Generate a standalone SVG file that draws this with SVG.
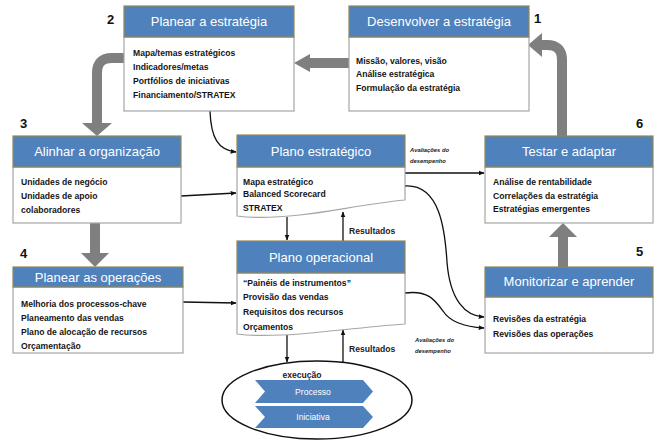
<svg xmlns="http://www.w3.org/2000/svg" width="656" height="444" viewBox="0 0 656 444">
  <style>
    .hdr { fill: #4f81bd; stroke: #938953; stroke-width: 1.2; }
    .body { fill: #ffffff; stroke: #a6a6a6; stroke-width: 1.2; }
    .title { font-family: "Liberation Sans", Arial, sans-serif; font-size: 13px; fill: #ffffff; text-anchor: middle; }
    .item { font-family: "Liberation Sans", Arial, sans-serif; font-size: 8.6px; font-weight: bold; fill: #151515; }
    .num { font-family: "Liberation Sans", Arial, sans-serif; font-size: 13px; font-weight: bold; fill: #111; }
    .lbl { font-family: "Liberation Sans", Arial, sans-serif; font-size: 8.6px; font-weight: bold; fill: #222; }
    .tiny { font-family: "Liberation Sans", Arial, sans-serif; font-size: 5.8px; font-weight: bold; font-style: italic; fill: #222; }
    .thin { fill: none; stroke: #111; stroke-width: 1.3; marker-end: url(#tip); }
    .thick { fill: none; stroke: #7f7f7f; stroke-width: 10; }
    .head { fill: #7f7f7f; }
    .chev { fill: #4f81bd; }
    .chevtxt { font-family: "Liberation Sans", Arial, sans-serif; font-size: 8.6px; fill: #ffffff; text-anchor: middle; }
  </style>
  <defs>
    <marker id="tip" viewBox="0 0 10 10" refX="9" refY="5" markerWidth="6" markerHeight="6" orient="auto" markerUnits="userSpaceOnUse">
      <path d="M0,1 L10,5 L0,9 Z" fill="#111"/>
    </marker>
  </defs>

  <rect width="656" height="444" fill="#ffffff"/>

  <!-- cycle step numbers -->
  <g id="numbers">
    <text class="num" x="534" y="23">1</text>
    <text class="num" x="107" y="24">2</text>
    <text class="num" x="20" y="128">3</text>
    <text class="num" x="20" y="258">4</text>
    <text class="num" x="636" y="256">5</text>
    <text class="num" x="636" y="128">6</text>
  </g>

  <!-- connectors -->
  <g id="connectors">
    <!-- thick grey cycle arrows -->
    <line class="thick" x1="349" y1="63" x2="308" y2="63"/>
    <polygon class="head" points="294,63 310,54 310,72"/>

    <path class="thick" d="M124,58 H112 Q97,58 97,73 V124"/>
    <polygon class="head" points="82,123 112,123 97,136"/>

    <line class="thick" x1="95" y1="223" x2="95" y2="254"/>
    <polygon class="head" points="81,253 109,253 95,267"/>

    <line class="thick" x1="563" y1="267" x2="563" y2="236"/>
    <polygon class="head" points="549,237 577,237 563,223"/>

    <path class="thick" d="M562,136 V60 Q562,45 547,45 H540"/>
    <polygon class="head" points="528,45 542,33 542,57"/>

    <!-- thin flow arrows -->
    <path class="thin" d="M210,111 C211,138 218,150 236,152"/>
    <path class="thin" d="M181,196 L236,193"/>
    <path class="thin" d="M183,302 L236,303"/>
    <path class="thin" d="M287,217 V240"/>
    <path class="thin" d="M343,241 V212"/>
    <path class="thin" d="M287,335 V362"/>
    <path class="thin" d="M343,362 V330"/>
    <path class="thin" d="M405,173 H484"/>
    <path class="thin" d="M405,186 C440,184 445,230 447,262 C450,300 465,316 484,317"/>
    <path class="thin" d="M405,293 C428,290 435,300 443,311 C450,322 465,327 484,328"/>

    <text class="lbl" x="349" y="234">Resultados</text>
    <text class="lbl" x="349" y="352">Resultados</text>
    <text class="tiny" x="410" y="152">Avaliações do</text>
    <text class="tiny" x="410" y="163">desempenho</text>
    <text class="tiny" x="415" y="342">Avaliações do</text>
    <text class="tiny" x="415" y="353">desempenho</text>
  </g>

  <!-- 1: Desenvolver a estratégia -->
  <g id="desenvolver">
    <rect class="body" x="349" y="37" width="180" height="74"/>
    <rect class="hdr" x="349" y="6" width="180" height="31"/>
    <text class="title" x="439" y="26">Desenvolver a estratégia</text>
    <text class="item" x="356" y="64">Missão, valores, visão</text>
    <text class="item" x="356" y="77">Análise estratégica</text>
    <text class="item" x="356" y="91">Formulação da estratégia</text>
  </g>

  <!-- 2: Planear a estratégia -->
  <g id="planear-estrategia">
    <rect class="body" x="124" y="37" width="170" height="74"/>
    <rect class="hdr" x="124" y="6" width="170" height="31"/>
    <text class="title" x="209" y="26">Planear a estratégia</text>
    <text class="item" x="133" y="56">Mapa/temas estratégicos</text>
    <text class="item" x="133" y="70">Indicadores/metas</text>
    <text class="item" x="133" y="84">Portfólios de iniciativas</text>
    <text class="item" x="133" y="98">Financiamento/STRATEX</text>
  </g>

  <!-- 3: Alinhar a organização -->
  <g id="alinhar">
    <rect class="body" x="13" y="167" width="168" height="56"/>
    <rect class="hdr" x="13" y="136" width="168" height="31"/>
    <text class="title" x="97" y="156">Alinhar a organização</text>
    <text class="item" x="21" y="185">Unidades de negócio</text>
    <text class="item" x="21" y="199">Unidades de apoio</text>
    <text class="item" x="21" y="213">colaboradores</text>
  </g>

  <!-- 4: Planear as operações -->
  <g id="planear-operacoes">
    <rect class="body" x="13" y="287" width="170" height="66"/>
    <rect class="hdr" x="13" y="267" width="170" height="20"/>
    <text class="title" x="98" y="282">Planear as operações</text>
    <text class="item" x="21" y="307">Melhoria dos processos-chave</text>
    <text class="item" x="21" y="321">Planeamento das vendas</text>
    <text class="item" x="21" y="335">Plano de alocação de recursos</text>
    <text class="item" x="21" y="349">Orçamentação</text>
  </g>

  <!-- Plano estratégico (document) -->
  <g id="plano-estrategico">
    <path class="body" d="M237,167 H405 V200 C365,204 335,211 300,215 C272,218 252,218 237,216 Z"/>
    <rect class="hdr" x="237" y="135" width="168" height="32"/>
    <text class="title" x="321" y="156">Plano estratégico</text>
    <text class="item" x="243" y="185">Mapa estratégico</text>
    <text class="item" x="243" y="197">Balanced Scorecard</text>
    <text class="item" x="243" y="211">STRATEX</text>
  </g>

  <!-- Plano operacional (document) -->
  <g id="plano-operacional">
    <path class="body" d="M237,273 H405 V324 C365,327 335,331 300,334 C272,336 252,336 237,334 Z"/>
    <rect class="hdr" x="237" y="241" width="168" height="32"/>
    <text class="title" x="321" y="262">Plano operacional</text>
    <text class="item" x="243" y="286">“Painéis de instrumentos”</text>
    <text class="item" x="243" y="300">Provisão das vendas</text>
    <text class="item" x="243" y="315">Requisitos dos recursos</text>
    <text class="item" x="243" y="330">Orçamentos</text>
  </g>

  <!-- 6: Testar e adaptar -->
  <g id="testar">
    <rect class="body" x="485" y="167" width="168" height="56"/>
    <rect class="hdr" x="485" y="136" width="168" height="31"/>
    <text class="title" x="569" y="156">Testar e adaptar</text>
    <text class="item" x="493" y="185">Análise de rentabilidade</text>
    <text class="item" x="493" y="199">Correlações da estratégia</text>
    <text class="item" x="493" y="212">Estratégias emergentes</text>
  </g>

  <!-- 5: Monitorizar e aprender -->
  <g id="monitorizar">
    <rect class="body" x="485" y="297" width="168" height="56"/>
    <rect class="hdr" x="485" y="267" width="168" height="30"/>
    <text class="title" x="569" y="286">Monitorizar e aprender</text>
    <text class="item" x="493" y="322">Revisões da estratégia</text>
    <text class="item" x="493" y="337">Revisões das operações</text>
  </g>

  <!-- execução -->
  <g id="execucao">
    <ellipse cx="317" cy="400" rx="95" ry="39" fill="#ffffff" stroke="#111" stroke-width="1.5"/>
    <text class="lbl" x="302" y="378" text-anchor="middle">execução</text>
    <polygon class="chev" points="255,380 363,380 373,391.5 363,403 255,403 265,391.5"/>
    <text class="chevtxt" x="313" y="394.5">Processo</text>
    <polygon class="chev" points="255,406 363,406 373,417 363,428 255,428 265,417"/>
    <text class="chevtxt" x="313" y="420">Iniciativa</text>
  </g>
</svg>
